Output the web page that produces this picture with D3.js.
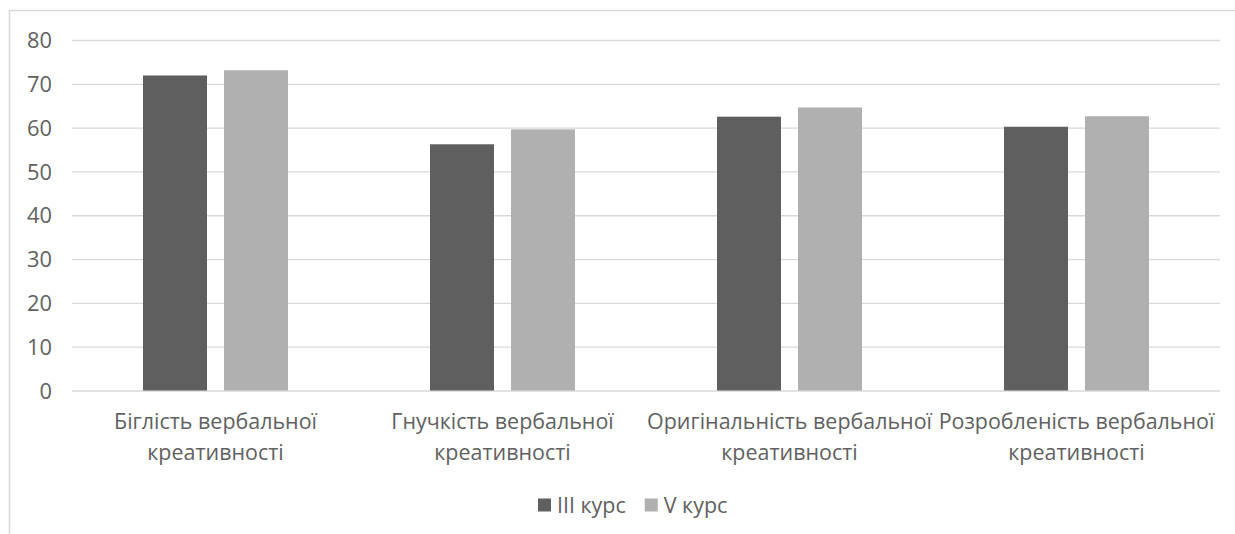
<!DOCTYPE html>
<html><head><meta charset="utf-8">
<script src="https://cdn.jsdelivr.net/npm/d3@7/dist/d3.min.js"></script>
<style>body{margin:0;background:#fff;} text{font-family:"Open Sans",sans-serif;fill:#616161;}</style>
</head><body>
<svg id="c" width="1235" height="534"></svg>
<script>
const categories = [
  ["Біглість вербальної", "креативності"],
  ["Гнучкість вербальної", "креативності"],
  ["Оригінальність вербальної", "креативності"],
  ["Розробленість вербальної", "креативності"]
];
const seriesNames = ["III курс", "V курс"];
const seriesIII = [71.9, 56.2, 62.5, 60.2];
const seriesV = [73.1, 59.6, 64.6, 62.6];
const yTicks = [0, 10, 20, 30, 40, 50, 60, 70, 80];
const colors = ["#5f5f5f", "#b0b0b0"];

(function () {
const svg = d3.select("#c");
const W = 1235, H = 534;
svg.append("rect").attr("width", W).attr("height", H).attr("fill", "#fff");
svg.append("path").attr("d", `M9.5,${H} V10.5 H${W}`).attr("fill", "none").attr("stroke", "#d9d9d9").attr("stroke-width", 1.5);

const probe = svg.append("text").attr("font-size", 20).text(categories[0][0]);
const fs = 20 * 203 / probe.node().getComputedTextLength();
probe.text("80");
const tfs = 20 * 25 / probe.node().getComputedTextLength();
probe.remove();

const pLeft = 72, pRight = 1220, pTop = 40, pBottom = 390.5;
const y = d3.scaleLinear().domain([0, 80]).range([pBottom, pTop]);
const x0 = d3.scaleBand().domain(d3.range(categories.length)).range([pLeft, pRight]).padding(0);
const gw = 145;
const x1 = d3.scaleBand().domain([0, 1]).range([(x0.bandwidth() - gw) / 2, (x0.bandwidth() + gw) / 2]).paddingInner(0.21).paddingOuter(0);

const yAxis = d3.axisLeft(y).tickValues(yTicks).tickSize(-(pRight - pLeft)).tickPadding(20);
const ga = svg.append("g").attr("transform", `translate(${pLeft},0)`).call(yAxis);
ga.select(".domain").remove();
ga.selectAll(".tick line").attr("stroke", "#d9d9d9").attr("stroke-width", 1.3);
ga.selectAll(".tick text").attr("font-size", tfs).attr("fill", "#616161").attr("font-family", '"Open Sans",sans-serif').attr("dy", "0.35em");

const data = [seriesIII, seriesV];
const g = svg.append("g");
categories.forEach((c, i) => {
  data.forEach((s, j) => {
    g.append("rect")
      .attr("x", x0(i) + x1(j))
      .attr("y", y(s[i]))
      .attr("width", x1.bandwidth())
      .attr("height", y(0) - y(s[i]))
      .attr("fill", colors[j]);
  });
  const cx = x0(i) + x0.bandwidth() / 2;
  const t = svg.append("text").attr("text-anchor", "middle").attr("font-size", fs).attr("x", cx).attr("y", 421);
  c.forEach((line, k) => {
    t.append("tspan").attr("x", cx).attr("dy", k === 0 ? "0.35em" : "1.45em").text(line);
  });
});

const lg = svg.append("g");
let lx = 538;
seriesNames.forEach((n, j) => {
  lg.append("rect").attr("x", lx).attr("y", 498.5).attr("width", 13).attr("height", 13).attr("fill", colors[j]);
  const tt = lg.append("text").attr("x", lx + 19).attr("y", 505).attr("dy", "0.35em").attr("font-size", fs).text(n);
  lx = lx + 19 + tt.node().getComputedTextLength() + 19;
});
})();
</script>
</body></html>
